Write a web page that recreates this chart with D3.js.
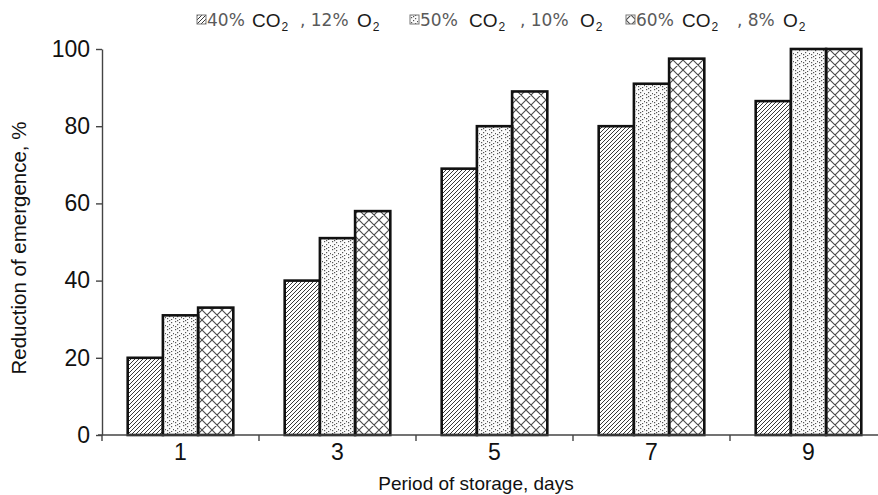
<!DOCTYPE html>
<html>
<head>
    <meta charset="UTF-8">
    <title>Chart</title>
    <style>
        body { margin: 0; background-color: #FFFFFF; }
        svg { display: block; background-color: #FFFFFF; font-family: "Liberation Sans", Arial, sans-serif; }
    </style>
</head>
<body>
    <div id="graph-container"></div>
    <script src="https://cdn.jsdelivr.net/npm/d3@7"></script>
    <script>
        // data
        let days = ["1", "3", "5", "7", "9"];
        let seriesKeys = ["s40", "s50", "s60"];
        let co2Labels = ["40%", "50%", "60%"];
        let o2Labels = ["12%", "10%", "8%"];
        let s40 = [20, 40, 69, 80, 86.5];
        let s50 = [31, 51, 80, 91, 100];
        let s60 = [33, 58, 89, 97.5, 100];
        let yTicks = [0, 20, 40, 60, 80, 100];

        let values = { s40: s40, s50: s50, s60: s60 };
        let patternIds = { s40: "hatch", s50: "dots", s60: "cross" };

        let width = 878, height = 495;
        let margin = { top: 49, left: 102, bottom: 60 };

        let svg = d3.select("#graph-container").append("svg")
            .attr("width", width)
            .attr("height", height);

        // patterns
        let defs = svg.append("defs");
        defs.append("pattern")
            .attr("id", "hatch")
            .attr("patternUnits", "userSpaceOnUse")
            .attr("width", 4).attr("height", 4)
            .append("path")
            .attr("d", "M-1,1 l2,-2 M0,4 l4,-4 M3,5 l2,-2")
            .attr("stroke", "#3a3a3a")
            .attr("stroke-width", 1);

        let dotPat = defs.append("pattern")
            .attr("id", "dots")
            .attr("patternUnits", "userSpaceOnUse")
            .attr("width", 8).attr("height", 8);
        dotPat.append("rect").attr("width", 8).attr("height", 8).attr("fill", "#fbfbfb");
        [[1, 1], [5, 2], [3, 4], [7, 5], [1, 6], [5, 7], [3, 0]].forEach(p => {
            dotPat.append("rect")
                .attr("x", p[0]).attr("y", p[1])
                .attr("width", 1.2).attr("height", 1.2)
                .attr("fill", "#555");
        });

        let crossPat = defs.append("pattern")
            .attr("id", "cross")
            .attr("patternUnits", "userSpaceOnUse")
            .attr("width", 10).attr("height", 10);
        crossPat.append("path")
            .attr("d", "M0,0 L10,10 M10,0 L0,10 M-1,9 L1,11 M9,-1 L11,1 M-1,1 L1,-1 M9,11 L11,9")
            .attr("stroke", "#4a4a4a")
            .attr("stroke-width", 1.1)
            .attr("fill", "none");

        // scales
        let x0 = d3.scaleBand()
            .domain(days)
            .range([margin.left, margin.left + 5 * 157])
            .padding(0);
        let x1 = d3.scaleBand()
            .domain(seriesKeys)
            .range([0, x0.bandwidth()])
            .paddingInner(0)
            .paddingOuter(0.73);
        let y = d3.scaleLinear()
            .domain([0, 100])
            .range([435, margin.top]);

        // bars
        let groups = svg.selectAll(".group")
            .data(days)
            .enter()
            .append("g")
            .attr("class", "group")
            .attr("transform", d => "translate(" + x0(d) + ",0)");

        groups.selectAll("rect")
            .data((d, i) => seriesKeys.map(k => ({ key: k, value: values[k][i] })))
            .enter()
            .append("rect")
            .attr("x", d => x1(d.key))
            .attr("y", d => y(d.value))
            .attr("width", x1.bandwidth())
            .attr("height", d => y(0) - y(d.value))
            .attr("fill", d => "url(#" + patternIds[d.key] + ")")
            .attr("stroke", "#111")
            .attr("stroke-width", 2.6);

        // y axis
        let yAxis = svg.append("g")
            .attr("transform", "translate(" + margin.left + ",0)")
            .call(d3.axisLeft(y).tickValues(yTicks).tickSize(6).tickSizeOuter(0).tickPadding(6));
        yAxis.select(".domain").attr("stroke", "#444").attr("stroke-width", 1.4);
        yAxis.selectAll(".tick line").attr("stroke", "#444").attr("stroke-width", 1.4);
        yAxis.selectAll("text")
            .attr("font-size", 23)
            .attr("fill", "#111")
            .style("font-family", "'Liberation Sans', Arial, sans-serif");

        // x axis
        let xAxis = svg.append("g")
            .attr("transform", "translate(0," + y(0) + ")")
            .call(d3.axisBottom(x0).tickSize(0).tickPadding(9));
        xAxis.select(".domain")
            .attr("d", "M" + (margin.left - 4) + ",0H" + (width + 20))
            .attr("stroke", "#444").attr("stroke-width", 1.4);
        xAxis.selectAll("text")
            .attr("font-size", 23)
            .attr("fill", "#111")
            .style("font-family", "'Liberation Sans', Arial, sans-serif");
        xAxis.selectAll(".bound")
            .data(days)
            .enter()
            .append("line")
            .attr("class", "bound")
            .attr("x1", d => x0(d)).attr("x2", d => x0(d))
            .attr("y1", 0).attr("y2", 6)
            .attr("stroke", "#444").attr("stroke-width", 1.4);

        // axis titles
        svg.append("text")
            .attr("x", 476)
            .attr("y", 490)
            .attr("text-anchor", "middle")
            .attr("font-size", 19)
            .attr("fill", "#111")
            .text("Period of storage, days");

        svg.append("text")
            .attr("transform", "translate(26,248) rotate(-90)")
            .attr("text-anchor", "middle")
            .attr("font-size", 20.5)
            .attr("fill", "#111")
            .text("Reduction of emergence, %");

        // legend: icon, then pieces placed at offsets from the icon
        let legendX = [197, 410, 626];
        let coX = [55, 59, 56];
        let commaX = [103, 110, 111];
        let oX = [160, 170, 157];
        let legend = svg.selectAll(".legend")
            .data(seriesKeys)
            .enter()
            .append("g")
            .attr("class", "legend")
            .attr("transform", (d, i) => "translate(" + legendX[i] + ",0)");

        legend.append("rect")
            .attr("width", 9).attr("height", 9)
            .attr("y", 15)
            .attr("fill", d => "url(#" + patternIds[d] + ")")
            .attr("stroke", "#777")
            .attr("stroke-width", 1);

        legend.append("text")
            .attr("x", 10).attr("y", 26)
            .attr("font-size", 17)
            .attr("fill", "#5a5a5a")
            .style("font-family", "'DejaVu Sans', sans-serif")
            .text((d, i) => co2Labels[i]);

        let co = legend.append("text")
            .attr("x", (d, i) => coX[i]).attr("y", 27)
            .attr("font-size", 19)
            .attr("fill", "#1a1a1a");
        co.append("tspan").text("CO");
        co.append("tspan").attr("font-size", 12).attr("dy", 4).attr("dx", 1).text("2");

        legend.append("text")
            .attr("x", (d, i) => commaX[i]).attr("y", 26)
            .attr("font-size", 17)
            .attr("fill", "#5a5a5a")
            .style("font-family", "'DejaVu Sans', sans-serif")
            .attr("xml:space", "preserve")
            .text((d, i) => ", " + o2Labels[i]);

        let o2 = legend.append("text")
            .attr("x", (d, i) => oX[i]).attr("y", 27)
            .attr("font-size", 19)
            .attr("fill", "#1a1a1a");
        o2.append("tspan").text("O");
        o2.append("tspan").attr("font-size", 12).attr("dy", 4).attr("dx", 1).text("2");
    </script>
</body>
</html>
